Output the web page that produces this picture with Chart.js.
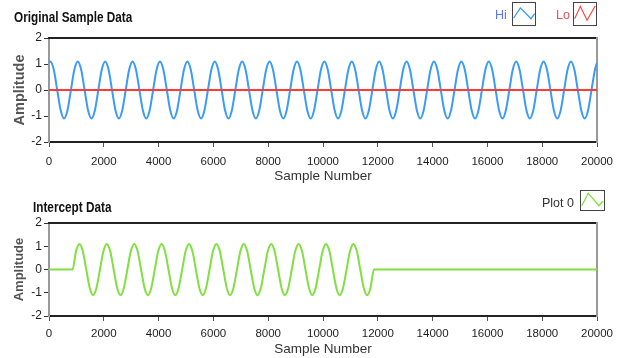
<!DOCTYPE html>
<html>
<head>
<meta charset="utf-8">
<script src="https://cdn.jsdelivr.net/npm/chart.js@4/dist/chart.umd.min.js"></script>
<style>
html,body{margin:0;padding:0;background:#fff;width:623px;height:358px;overflow:hidden;position:relative;font-family:"Liberation Sans",Arial,sans-serif}
canvas{position:absolute;left:0}
#c1{top:0}
#c2{top:185px}
.ttl{position:absolute;font-family:"Liberation Sans",Arial,sans-serif;font-weight:bold;font-size:14px;line-height:14px;color:#111;white-space:nowrap;transform:scaleX(0.84);transform-origin:0 0}
.lg{position:absolute;font-size:12.5px;line-height:14px;white-space:nowrap}
.box{position:absolute;box-sizing:border-box;border:1.5px solid #444;background:#fff}
.box svg{position:absolute;left:-1.5px;top:-1.5px;overflow:visible}
</style>
</head>
<body>
<canvas id="c1" width="623" height="185"></canvas>
<canvas id="c2" width="623" height="173"></canvas>

<div class="ttl" style="left:14px;top:10px">Original Sample Data</div>
<div class="lg" style="left:495px;top:8px;color:#5a78e6">Hi</div>
<div class="box" style="left:512px;top:2px;width:24px;height:24px">
  <svg width="24" height="24"><polyline points="1.7,16 8.3,6 19,16.7 22.7,11.7" fill="none" stroke="#3399ff" stroke-width="1.3"/></svg>
</div>
<div class="lg" style="left:556px;top:8px;color:#e8505a">Lo</div>
<div class="box" style="left:573px;top:2px;width:24px;height:24px">
  <svg width="24" height="24"><polyline points="1.7,16.7 7.3,4.3 14,18.3 22.3,3.7" fill="none" stroke="#ff4040" stroke-width="1.1"/></svg>
</div>

<div class="ttl" style="left:33px;top:200px">Intercept Data</div>
<div class="lg" style="left:542px;top:196px;color:#333">Plot 0</div>
<div class="box" style="left:580px;top:190px;width:25px;height:21px">
  <svg width="25" height="21"><polyline points="1.7,15.7 8.3,3.3 19,15.7 23,11" fill="none" stroke="#7fe040" stroke-width="1.3"/></svg>
</div>

<script>
// ---- tick labels ----
const xTicks = [0, 2000, 4000, 6000, 8000, 10000, 12000, 14000, 16000, 18000, 20000];
const yTicks = [-2, -1, 0, 1, 2];

// ---- Original Sample Data: "Hi" series ----
const hiSamples = [0,
  50,175,300,425,550,675,800,925,
  1050,1175,1300,1425,1550,1675,1800,1925,
  2050,2175,2300,2425,2550,2675,2800,2925,
  3050,3175,3300,3425,3550,3675,3800,3925,
  4050,4175,4300,4425,4550,4675,4800,4925,
  5050,5175,5300,5425,5550,5675,5800,5925,
  6050,6175,6300,6425,6550,6675,6800,6925,
  7050,7175,7300,7425,7550,7675,7800,7925,
  8050,8175,8300,8425,8550,8675,8800,8925,
  9050,9175,9300,9425,9550,9675,9800,9925,
  10050,10175,10300,10425,10550,10675,10800,10925,
  11050,11175,11300,11425,11550,11675,11800,11925,
  12050,12175,12300,12425,12550,12675,12800,12925,
  13050,13175,13300,13425,13550,13675,13800,13925,
  14050,14175,14300,14425,14550,14675,14800,14925,
  15050,15175,15300,15425,15550,15675,15800,15925,
  16050,16175,16300,16425,16550,16675,16800,16925,
  17050,17175,17300,17425,17550,17675,17800,17925,
  18050,18175,18300,18425,18550,18675,18800,18925,
  19050,19175,19300,19425,19550,19675,19800,19925,
  20000];
const hiValues = [1.05,
  1.1,0.78,0,-0.78,-1.1,-0.78,0,0.78,
  1.1,0.78,0,-0.78,-1.1,-0.78,0,0.78,
  1.1,0.78,0,-0.78,-1.1,-0.78,0,0.78,
  1.1,0.78,0,-0.78,-1.1,-0.78,0,0.78,
  1.1,0.78,0,-0.78,-1.1,-0.78,0,0.78,
  1.1,0.78,0,-0.78,-1.1,-0.78,0,0.78,
  1.1,0.78,0,-0.78,-1.1,-0.78,0,0.78,
  1.1,0.78,0,-0.78,-1.1,-0.78,0,0.78,
  1.1,0.78,0,-0.78,-1.1,-0.78,0,0.78,
  1.1,0.78,0,-0.78,-1.1,-0.78,0,0.78,
  1.1,0.78,0,-0.78,-1.1,-0.78,0,0.78,
  1.1,0.78,0,-0.78,-1.1,-0.78,0,0.78,
  1.1,0.78,0,-0.78,-1.1,-0.78,0,0.78,
  1.1,0.78,0,-0.78,-1.1,-0.78,0,0.78,
  1.1,0.78,0,-0.78,-1.1,-0.78,0,0.78,
  1.1,0.78,0,-0.78,-1.1,-0.78,0,0.78,
  1.1,0.78,0,-0.78,-1.1,-0.78,0,0.78,
  1.1,0.78,0,-0.78,-1.1,-0.78,0,0.78,
  1.1,0.78,0,-0.78,-1.1,-0.78,0,0.78,
  1.1,0.78,0,-0.78,-1.1,-0.78,0,0.78,
  1.05];

// ---- Original Sample Data: "Lo" series ----
const loSamples = [0, 20000];
const loValues = [0, 0];

// ---- Intercept Data: "Plot 0" series ----
const plot0Samples = [0,
  860,985,1110,1235,1360,1485,1610,1735,
  1860,1985,2110,2235,2360,2485,2610,2735,
  2860,2985,3110,3235,3360,3485,3610,3735,
  3860,3985,4110,4235,4360,4485,4610,4735,
  4860,4985,5110,5235,5360,5485,5610,5735,
  5860,5985,6110,6235,6360,6485,6610,6735,
  6860,6985,7110,7235,7360,7485,7610,7735,
  7860,7985,8110,8235,8360,8485,8610,8735,
  8860,8985,9110,9235,9360,9485,9610,9735,
  9860,9985,10110,10235,10360,10485,10610,10735,
  10860,10985,11110,11235,11360,11485,11610,11735,
  11860, 20000];
const plot0Values = [0,
  0,0.78,1.1,0.78,0,-0.78,-1.1,-0.78,
  0,0.78,1.1,0.78,0,-0.78,-1.1,-0.78,
  0,0.78,1.1,0.78,0,-0.78,-1.1,-0.78,
  0,0.78,1.1,0.78,0,-0.78,-1.1,-0.78,
  0,0.78,1.1,0.78,0,-0.78,-1.1,-0.78,
  0,0.78,1.1,0.78,0,-0.78,-1.1,-0.78,
  0,0.78,1.1,0.78,0,-0.78,-1.1,-0.78,
  0,0.78,1.1,0.78,0,-0.78,-1.1,-0.78,
  0,0.78,1.1,0.78,0,-0.78,-1.1,-0.78,
  0,0.78,1.1,0.78,0,-0.78,-1.1,-0.78,
  0,0.78,1.1,0.78,0,-0.78,-1.1,-0.78,
  0, 0];

function toPoints(xs, ys) { return xs.map((x, i) => ({ x: x, y: ys[i] })); }

const tickFamily = '"Liberation Sans", Arial, sans-serif';
Chart.defaults.font.family = '"Liberation Sans", Arial, sans-serif';

function makeChart(id, datasets, cfg) {
  return new Chart(document.getElementById(id), {
    type: 'line',
    data: { datasets: datasets },
    options: {
      responsive: false, animation: false, devicePixelRatio: 1,
      layout: { padding: { top: cfg.padTop, right: 26, left: 0, bottom: 0 } },
      plugins: { legend: { display: false }, tooltip: { enabled: false } },
      elements: { point: { radius: 0 } },
      scales: {
        x: {
          type: 'linear', position: 'bottom', min: 0, max: 20000,
          afterBuildTicks: s => { s.ticks = xTicks.map(v => ({ value: v })); },
          afterFit: s => { s.height = cfg.xAxisH; },
          ticks: { color: '#1e1e1e', font: { family: tickFamily, size: 11.5 }, padding: cfg.xTickPad, maxRotation: 0, autoSkip: false, callback: v => String(v) },
          grid: { display: true, drawOnChartArea: false, drawTicks: true, tickLength: 5, color: '#555', lineWidth: 1 },
          border: { display: true, color: '#222', width: 2 },
          title: { display: true, text: 'Sample Number', color: '#333', font: { size: 13.5 }, padding: { top: 0, bottom: 1 } }
        },
        y: {
          type: 'linear', position: 'left', min: -2, max: 2,
          afterBuildTicks: s => { s.ticks = yTicks.map(v => ({ value: v })); },
          afterFit: s => { s.width = 49; },
          ticks: { color: '#1e1e1e', font: { family: tickFamily, size: 12 }, padding: 2, callback: v => String(v) },
          grid: { display: true, drawOnChartArea: false, drawTicks: true, tickLength: 5, color: '#333', lineWidth: 1 },
          border: { display: true, color: '#999', width: 2 },
          title: { display: true, text: 'Amplitude', color: '#555', font: { size: cfg.yTitleSize, weight: 'bold' }, padding: { top: cfg.yTitlePad, bottom: 0 } }
        },
        xTop: {
          type: 'linear', position: 'top', min: 0, max: 1,
          afterFit: s => { s.height = 0; },
          ticks: { display: false }, grid: { display: false, drawTicks: false },
          border: { display: true, color: '#222', width: 2 }
        },
        yRight: {
          type: 'linear', position: 'right', min: 0, max: 1,
          afterFit: s => { s.width = 0; },
          ticks: { display: false }, grid: { display: false, drawTicks: false },
          border: { display: true, color: '#999', width: 2 }
        }
      }
    }
  });
}

makeChart('c1', [
  { label: 'Lo', data: toPoints(loSamples, loValues), borderColor: '#ff3c3c', borderWidth: 2, order: 1, xAxisID: 'x', yAxisID: 'y' },
  { label: 'Hi', data: toPoints(hiSamples, hiValues), borderColor: '#3a9cf6', borderWidth: 2, cubicInterpolationMode: 'monotone', order: 2, xAxisID: 'x', yAxisID: 'y' }
], { padTop: 38, xAxisH: 43, xTickPad: 8, yTitleSize: 14.5, yTitlePad: 11 });

makeChart('c2', [
  { label: 'Plot 0', data: toPoints(plot0Samples, plot0Values), borderColor: '#7fe040', borderWidth: 2, cubicInterpolationMode: 'monotone', xAxisID: 'x', yAxisID: 'y' }
], { padTop: 38, xAxisH: 42, xTickPad: 6, yTitleSize: 13, yTitlePad: 12 });
</script>
</body>
</html>
